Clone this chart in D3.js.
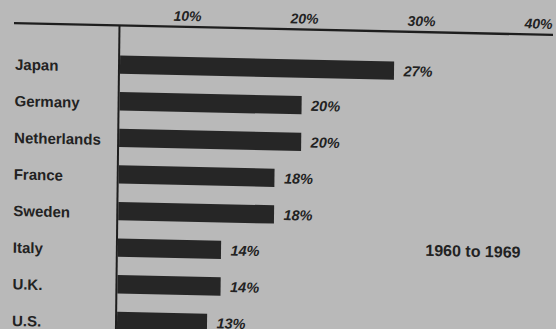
<!DOCTYPE html>
<html>
<head>
<meta charset="utf-8">
<script src="https://cdn.jsdelivr.net/npm/d3@7"></script>
<style>
  html, body { margin: 0; padding: 0; background: #b9b9b9; }
  svg { display: block; }
  text { font-family: "Liberation Sans", Arial, sans-serif; fill: #222; }
</style>
</head>
<body>
<div id="chart"></div>
<script>
// data
const countries = ["Japan", "Germany", "Netherlands", "France", "Sweden", "Italy", "U.K.", "U.S."];
const shares = [27, 20, 20, 18, 18, 14, 14, 13];
const tickValues = [10, 20, 30, 40];
const tickLabels = ["10%", "20%", "30%", "40%"];
const periodLabel = "1960 to 1969";

const width = 556, height = 329;
const axisY = 25.5, axisLeft = 120.5;

const svg = d3.select("#chart").append("svg")
    .attr("width", width)
    .attr("height", height);

svg.append("rect")
    .attr("width", width)
    .attr("height", height)
    .attr("fill", "#b9b9b9");

// the scanned page is a little skewed
const g = svg.append("g")
    .attr("transform", "matrix(1,0.0218,-0.0117,1,0.29,-2.62)");

// bar lengths in the print don't follow the printed tick spacing exactly,
// so the bars and the tick labels get their own scales
const barX = d3.scaleLinear()
    .domain([13, 27])
    .range([210.5, 394.5]);

const tickX = d3.scaleLinear()
    .domain([10, 40])
    .range([187, 538]);

const y = d3.scaleBand()
    .domain(countries)
    .range([46.35, 46.35 + 8 * 36.6])
    .paddingInner(0.5)
    .paddingOuter(0.25);

// top axis labels
const axis = g.append("g")
    .attr("transform", `translate(0,${axisY})`)
    .call(d3.axisTop(tickX)
        .tickValues(tickValues)
        .tickFormat((d, i) => tickLabels[i])
        .tickSize(0)
        .tickPadding(6));
axis.select(".domain").remove();
axis.selectAll("text")
    .attr("fill", "#222")
    .style("font-family", '"Liberation Sans", Arial, sans-serif')
    .style("font-size", "14px")
    .style("font-weight", "bold")
    .style("font-style", "italic");

// axis rules
g.append("line")
    .attr("x1", 14).attr("x2", 553)
    .attr("y1", axisY).attr("y2", axisY)
    .attr("stroke", "#1e1e1e")
    .attr("stroke-width", 2.3);

g.append("line")
    .attr("x1", axisLeft - 1).attr("x2", axisLeft - 1)
    .attr("y1", axisY).attr("y2", height + 10)
    .attr("stroke", "#1e1e1e")
    .attr("stroke-width", 2);

const rows = countries.map((c, i) => ({country: c, value: shares[i]}));

// bars
g.selectAll(".bar")
    .data(rows)
  .enter().append("rect")
    .attr("class", "bar")
    .attr("x", axisLeft)
    .attr("y", d => y(d.country))
    .attr("width", d => barX(d.value) - axisLeft)
    .attr("height", y.bandwidth())
    .attr("fill", "#262626");

// country names
g.selectAll(".name")
    .data(rows)
  .enter().append("text")
    .attr("class", "name")
    .attr("x", 15.5)
    .attr("y", d => y(d.country) + 16.5)
    .style("font-size", "15px")
    .style("font-weight", "bold")
    .text(d => d.country);

// value labels
g.selectAll(".value")
    .data(rows)
  .enter().append("text")
    .attr("class", "value")
    .attr("x", d => barX(d.value) + 9.5)
    .attr("y", d => y(d.country) + 14.5)
    .style("font-size", "14.5px")
    .style("font-weight", "bold")
    .style("font-style", "italic")
    .text(d => d.value + "%");

g.append("text")
    .attr("x", 475.5)
    .attr("y", 249)
    .attr("text-anchor", "middle")
    .style("font-size", "16px")
    .style("font-weight", "bold")
    .text(periodLabel);
</script>
</body>
</html>
